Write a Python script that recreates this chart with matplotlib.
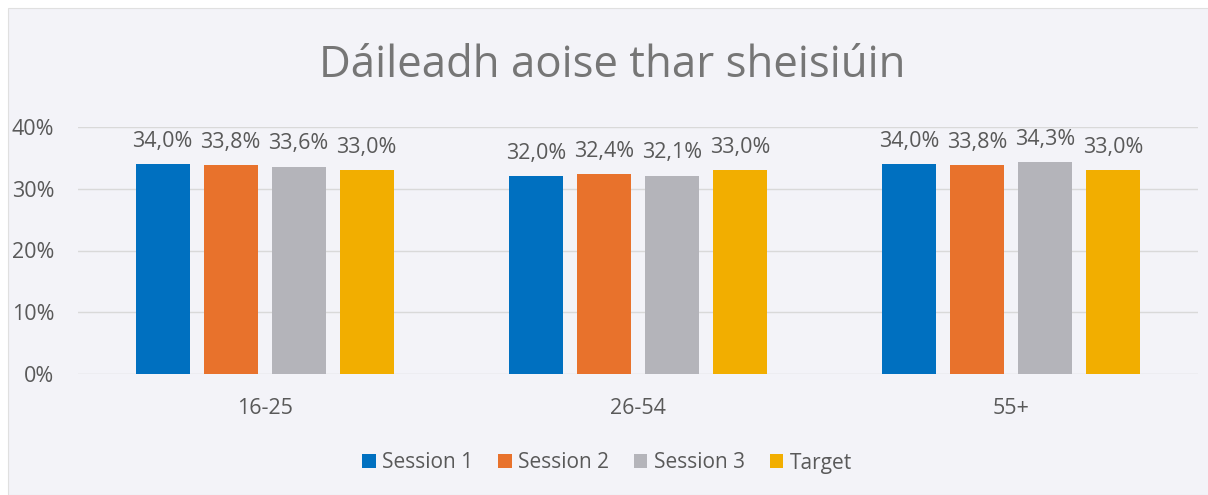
import numpy as np
import matplotlib.pyplot as plt
from matplotlib.patches import Rectangle
from matplotlib.ticker import FuncFormatter

categories = ["16-25", "26-54", "55+"]
series_names = ["Session 1", "Session 2", "Session 3", "Target"]
session1 = [34.0, 32.0, 34.0]
session2 = [33.8, 32.4, 33.8]
session3 = [33.6, 32.1, 34.3]
target = [33.0, 33.0, 33.0]
colors = ["#0070C0", "#E8722C", "#B4B4BA", "#F2AE00"]

plt.rcParams["font.family"] = ["Open Sans", "DejaVu Sans"]
text_col = "#595959"
bg = "#F3F3F8"

fig = plt.figure(figsize=(12.08, 4.95), dpi=100)
fig.patch.set_facecolor("white")
fig.patches.append(Rectangle((8 / 1208, 0), 1, 1 - 8 / 495, transform=fig.transFigure,
                             facecolor=bg, edgecolor="#E0E0E0", lw=0.8, zorder=-1))

ax = fig.add_axes([78 / 1208, 1 - 374 / 495, (1198 - 78) / 1208, (374 - 127) / 495])
ax.set_facecolor(bg)

x = np.arange(len(categories))
pitch = 0.182
width = 0.145
all_series = [session1, session2, session3, target]
for i, (vals, name, c) in enumerate(zip(all_series, series_names, colors)):
    pos = x + (i - 1.5) * pitch
    bars = ax.bar(pos, vals, width, color=c, label=name, zorder=3)
    for b, v in zip(bars, vals):
        ax.text(b.get_x() + b.get_width() / 2, v + 2.0, f"{v:.1f}%".replace(".", ","),
                ha="center", va="bottom", fontsize=15.5, color=text_col)

ax.set_xlim(-0.5, len(categories) - 0.5)
ax.set_ylim(0, 40)
ax.set_yticks([0, 10, 20, 30, 40])
ax.yaxis.set_major_formatter(FuncFormatter(lambda v, p: f"{v:.0f}%"))
ax.set_xticks(x)
ax.set_xticklabels(categories)
ax.grid(axis="y", color="#D9D9D9", lw=1, zorder=0)
for s in ax.spines.values():
    s.set_visible(False)
ax.tick_params(length=0, labelsize=15.5, labelcolor=text_col)
ax.tick_params(axis="x", pad=17)
ax.tick_params(axis="y", pad=17)

fig.text(612 / 1208, 1 - 66 / 495, "Dáileadh aoise thar sheisiúin", ha="center", va="center",
         fontsize=31.5, color="#767676")

fig.legend(loc="center", bbox_to_anchor=(607 / 1208, 1 - 463 / 495), ncol=4, frameon=False,
           fontsize=15, labelcolor=text_col, handlelength=0.65, handleheight=0.65,
           handletextpad=0.3, columnspacing=1.2)

fig.savefig("out.png", dpi=100, facecolor=fig.get_facecolor())
